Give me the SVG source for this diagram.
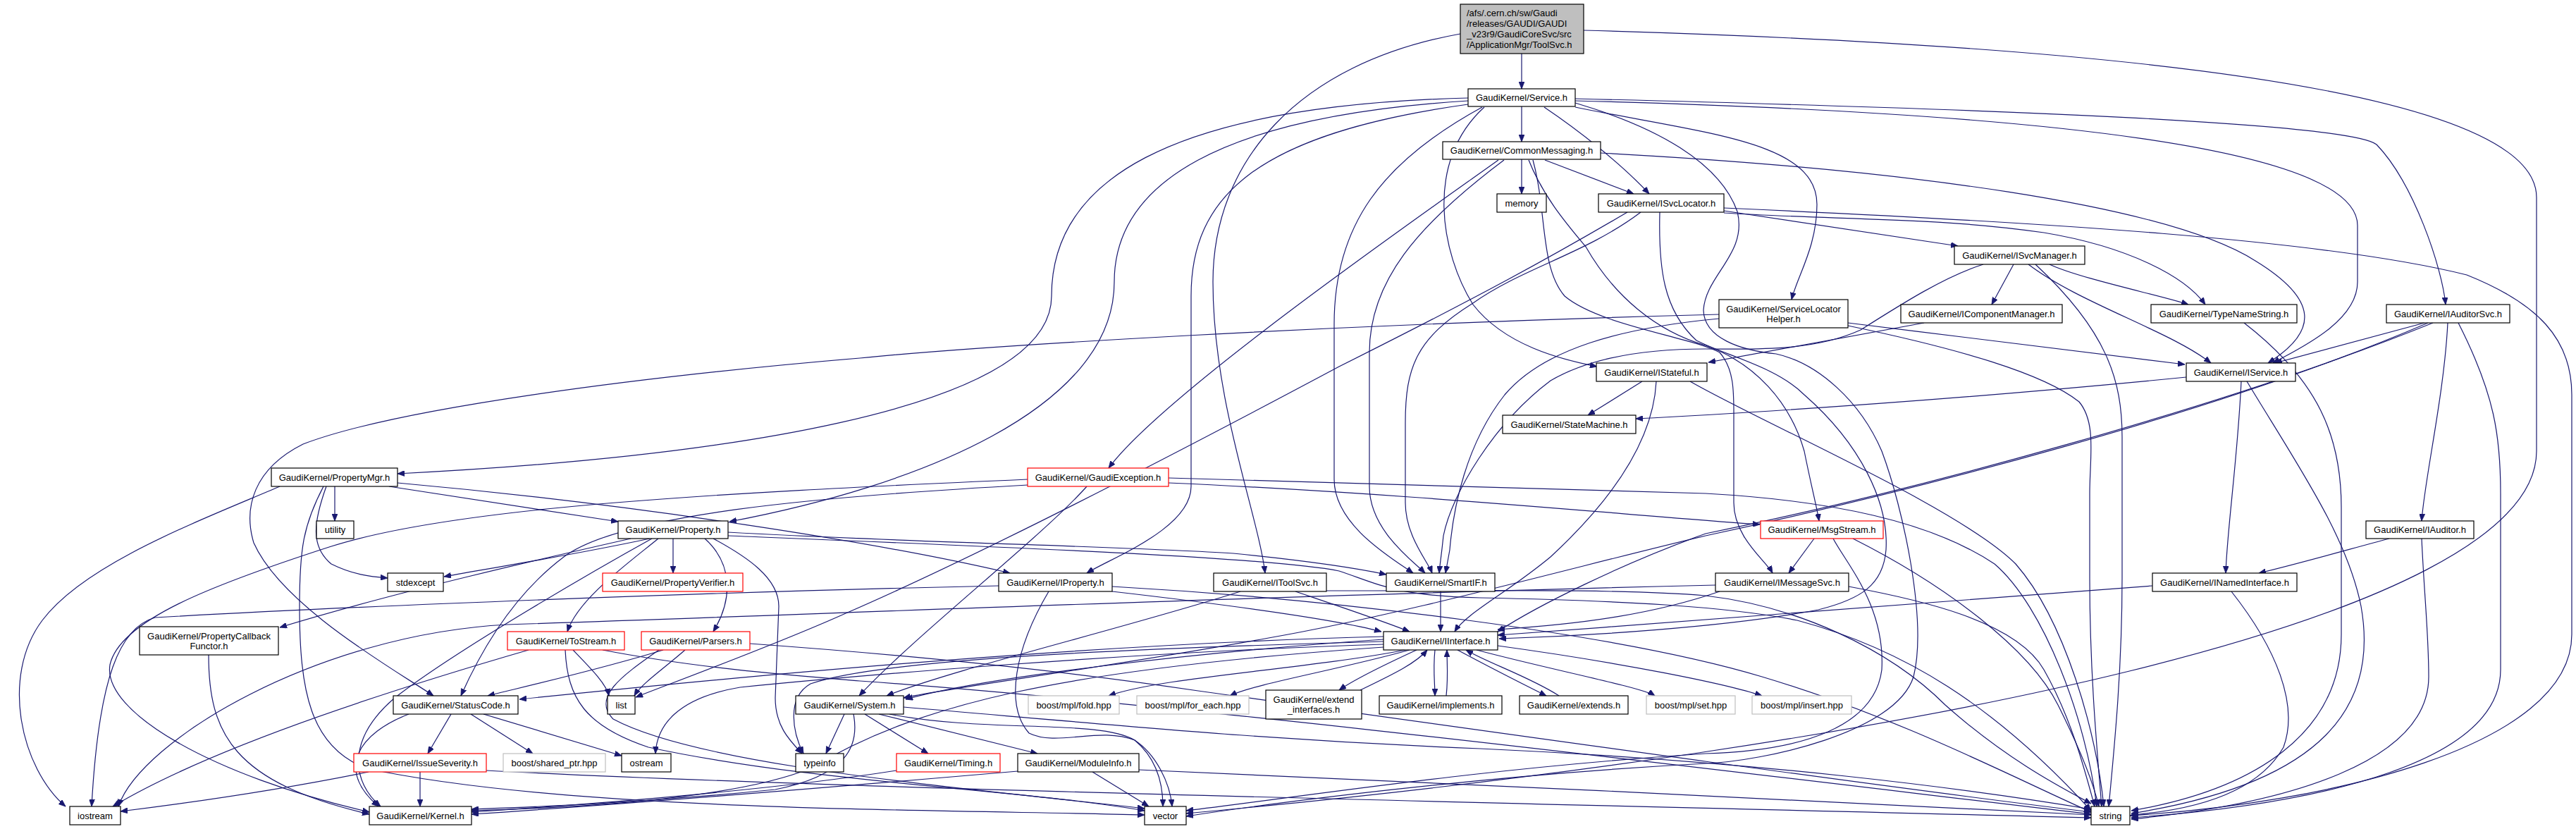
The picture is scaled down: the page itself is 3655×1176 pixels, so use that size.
<svg xmlns="http://www.w3.org/2000/svg" width="3655" height="1176" viewBox="0 0 3655 1176">
<defs>
<style>
.n rect{fill:#fff;stroke:#000;stroke-width:1.2}
.n.r rect{stroke:#ff0000}
.n.g rect{stroke:#bfbfbf}
.n.root rect{fill:#bfbfbf}
text{font-family:"Liberation Sans",Arial,Helvetica,sans-serif;font-size:13px;fill:#000;text-anchor:middle}
.n.root text{text-anchor:start}
#edges path{fill:none;stroke:#191970;stroke-width:1.2;marker-end:url(#a)}
</style>
<marker id="a" markerWidth="11" markerHeight="8" refX="10" refY="4" orient="auto" markerUnits="userSpaceOnUse"><path d="M0,0 L10,4 L0,8 z" fill="#191970" stroke="#191970" stroke-width="0.8"/></marker>
</defs>
<rect width="3655" height="1176" fill="#fff"/>
<g id="edges">
<path d="M2159,76 L2159,126"/>
<path d="M2072,48 C1840,90 1721,230 1721,400 C1721,570 1785,730 1795,813"/>
<path d="M2247,43 C2850,60 3599,110 3599,280 L3599,640 C3599,880 2700,1060 1683,1154"/>
<path d="M2159,151 L2159,201"/>
<path d="M2191,152 C2240,185 2300,232 2340,275"/>
<path d="M2235,152 C2420,190 2578,200 2578,290 C2578,350 2550,392 2542,425"/>
<path d="M2106,152 C2020,230 2045,360 2090,432 C2135,490 2215,510 2266,520"/>
<path d="M2103,152 C1960,230 1893,320 1893,460 L1893,680 C1893,745 1975,792 2005,813"/>
<path d="M2083,148 C1780,190 1690,280 1690,420 L1690,690 C1690,750 1575,792 1542,813"/>
<path d="M2083,143 C1730,165 1581,260 1581,400 C1581,580 1300,690 1035,740"/>
<path d="M2083,139 C1650,150 1492,260 1492,420 C1492,585 1000,650 564,672"/>
<path d="M2235,143 C2900,160 3345,210 3345,320 L3345,400 C3345,460 3250,500 3225,515"/>
<path d="M2235,140 C2850,155 3335,175 3372,205 C3425,260 3465,380 3470,432"/>
<path d="M2235,146 C2350,180 2440,230 2465,300 C2480,360 2420,390 2417,440 C2418,480 2470,497 2520,502 C2580,515 2640,570 2670,640 C2700,720 2735,880 2715,960 C2690,1040 2500,1080 2420,1083 C2100,1100 1800,1140 1683,1158"/>
<path d="M2159,226 L2159,275"/>
<path d="M2192,227 L2318,275"/>
<path d="M2126,227 C2010,310 1650,560 1573,664"/>
<path d="M2134,227 C2010,320 1943,400 1943,500 L1943,690 C1943,752 2005,796 2022,813"/>
<path d="M2169,227 C2190,280 2225,320 2250,350 C2290,420 2350,470 2420,490 C2490,515 2540,570 2560,640 C2570,690 2578,720 2581,739"/>
<path d="M2175,227 C2195,300 2185,380 2220,420 C2270,462 2400,478 2440,500 C2462,525 2460,560 2460,600 L2460,713 C2460,762 2505,795 2515,813"/>
<path d="M2271,217 C2700,240 3074,290 3200,370 C3290,425 3290,470 3218,515"/>
<path d="M2446,299 L2778,349"/>
<path d="M2446,302 C2600,312 2750,308 2900,330 C3020,350 3100,392 3129,432"/>
<path d="M2446,295 C2900,315 3300,340 3500,390 C3600,430 3649,480 3649,560 L3649,900 C3649,1060 3300,1140 3022,1157"/>
<path d="M2309,301 C2200,365 2100,420 1900,520 C1600,680 1350,805 1200,870 C1100,915 950,970 902,989"/>
<path d="M2328,301 C2250,360 2160,380 2090,430 C2010,480 1994,520 1994,600 L1994,713 C1994,760 2025,795 2032,813"/>
<path d="M2355,301 C2353,380 2360,440 2407,483 C2450,505 2520,520 2560,560 C2640,630 2680,713 2676,780 C2672,830 2640,850 2580,865 C2450,890 2250,902 2127,906"/>
<path d="M2857,375 L2826,432"/>
<path d="M2908,375 C2950,395 3070,420 3105,432"/>
<path d="M2878,375 C2950,430 3080,470 3137,515"/>
<path d="M2888,375 C2990,470 3011,540 3011,620 L3011,820 C3011,950 3000,1060 2992,1144"/>
<path d="M2814,375 C2760,392 2700,430 2640,468 C2570,500 2480,495 2420,495 C2340,495 2260,505 2200,540 C2120,600 2060,700 2048,760 C2045,790 2043,800 2042,813"/>
<path d="M2439,452 C2300,465 2190,495 2135,560 C2080,630 2062,720 2057,780 L2051,813"/>
<path d="M2439,446 C1900,460 1400,490 1220,508 C900,535 560,580 430,630 C360,665 345,720 360,770 C400,860 560,950 615,987"/>
<path d="M2622,458 C2800,480 3000,505 3100,517"/>
<path d="M2622,462 C2780,495 2900,530 2950,570 C2975,600 2965,650 2965,700 L2965,820 C2965,950 2975,1060 2982,1144"/>
<path d="M2730,458 L2424,514"/>
<path d="M2330,541 L2253,589"/>
<path d="M2350,541 C2345,640 2265,730 2200,790 C2140,840 2080,870 2064,896"/>
<path d="M2398,541 C2500,600 2780,720 2860,800 C2930,880 2975,1040 2985,1144"/>
<path d="M3102,535 C2800,565 2500,585 2321,594"/>
<path d="M3180,541 C3175,650 3160,750 3158,813"/>
<path d="M3188,541 C3260,660 3330,760 3350,860 C3375,1000 3300,1110 3024,1154"/>
<path d="M3184,458 C3290,540 3322,620 3322,720 L3322,900 C3322,1040 3200,1120 3024,1150"/>
<path d="M3440,458 L3228,515"/>
<path d="M3473,458 C3468,560 3440,680 3436,739"/>
<path d="M3452,458 C3150,580 2700,700 2420,757 C2300,800 2180,860 2125,896"/>
<path d="M3445,458 C3150,585 2700,700 2420,760 C2250,800 2000,870 1800,905 C1550,950 1350,975 1282,990"/>
<path d="M3488,458 C3540,560 3548,620 3548,700 L3548,950 C3548,1080 3300,1140 3024,1160"/>
<path d="M3390,764 C3330,780 3260,800 3205,813"/>
<path d="M3436,764 C3440,850 3446,900 3446,960 C3446,1080 3250,1140 3024,1162"/>
<path d="M3054,831 C2700,860 2420,879 2125,901"/>
<path d="M3166,839 C3230,920 3262,1000 3240,1060 C3200,1130 3100,1150 3024,1156"/>
<path d="M2574,764 L2538,813"/>
<path d="M2629,764 C2760,830 2880,920 2920,1000 C2950,1060 2970,1110 2978,1144"/>
<path d="M2601,764 C2620,800 2675,860 2670,950 C2660,1030 2560,1065 2420,1069 C2100,1090 1850,1130 1683,1150"/>
<path d="M2440,839 C2350,870 2250,885 2125,893"/>
<path d="M2623,832 C2720,850 2860,880 2900,950 C2940,1020 2960,1100 2972,1144"/>
<path d="M2434,830 C1800,845 1200,870 720,886 C450,900 200,1050 168,1144"/>
<path d="M1542,690 C1480,760 1300,900 1219,987"/>
<path d="M1458,688 C1150,705 880,730 800,790 C720,850 675,940 654,987"/>
<path d="M1458,680 C1000,700 640,720 467,776 C300,830 170,880 156,943 C145,1010 300,1100 524,1152"/>
<path d="M1658,685 C2000,700 2300,730 2497,744"/>
<path d="M1658,678 C2000,688 2300,695 2420,700 C2600,710 2740,740 2830,800 C2900,860 2960,1020 2975,1144"/>
<path d="M397,690 C280,740 120,800 60,880 C0,960 30,1090 93,1144"/>
<path d="M459,690 C430,745 425,780 425,860 C425,980 440,1060 520,1090 C800,1150 1300,1148 1624,1156"/>
<path d="M463,690 C445,740 440,775 470,800 C500,815 525,818 550,820"/>
<path d="M475,690 L475,739"/>
<path d="M552,690 L877,740"/>
<path d="M564,685 C900,715 1250,770 1433,813"/>
<path d="M955,764 L955,813"/>
<path d="M895,764 C780,790 560,840 397,890"/>
<path d="M922,764 C800,790 700,805 630,818"/>
<path d="M934,764 C890,800 820,850 805,896"/>
<path d="M1000,764 C1040,800 1040,850 1012,896"/>
<path d="M1012,764 C1060,790 1105,820 1105,860 L1100,990 C1100,1030 1120,1050 1138,1069"/>
<path d="M925,764 C860,800 650,920 560,990 C490,1050 500,1110 540,1144"/>
<path d="M1033,755 C1300,770 1600,775 1750,785 C1850,795 1920,805 1967,815"/>
<path d="M1033,760 C1400,775 1800,790 1900,810 C1960,830 1980,845 2100,848 C2300,852 2450,860 2550,880 C2700,920 2830,1000 2967,1150"/>
<path d="M1578,839 C1760,860 1900,880 1960,896"/>
<path d="M1417,831 C1000,840 500,860 220,876 C170,890 140,960 130,1144"/>
<path d="M1488,839 C1440,920 1425,1000 1460,1040 C1500,1060 1560,1030 1610,1050 C1640,1070 1660,1110 1663,1144"/>
<path d="M1578,832 C1900,850 2300,900 2500,960 C2700,1020 2850,1100 2967,1152"/>
<path d="M1838,839 C1900,860 1960,880 2000,896"/>
<path d="M1760,839 C1600,890 1350,950 1258,987"/>
<path d="M1882,838 C2100,838 2300,835 2420,845 C2550,860 2680,920 2760,1000 C2850,1080 2930,1120 2967,1140"/>
<path d="M2044,839 L2044,896"/>
<path d="M1994,922 C1850,950 1650,960 1573,987"/>
<path d="M2000,922 C1900,950 1780,970 1745,987"/>
<path d="M2010,922 C1960,945 1920,965 1900,979"/>
<path d="M1930,979 C1980,955 2010,940 2025,922"/>
<path d="M2036,922 C2033,950 2036,970 2036,987"/>
<path d="M2052,987 C2055,960 2053,940 2053,922"/>
<path d="M2068,922 C2120,950 2170,975 2194,987"/>
<path d="M2212,987 C2170,960 2110,940 2080,922"/>
<path d="M2095,922 C2200,950 2330,975 2348,987"/>
<path d="M2125,916 C2300,940 2450,970 2500,987"/>
<path d="M1963,907 C1700,925 1400,960 1285,992"/>
<path d="M1963,910 C1600,920 1250,935 1150,970 C1115,990 1125,1040 1140,1069"/>
<path d="M1963,914 C1600,925 1200,960 1050,975 C960,990 932,1030 930,1069"/>
<path d="M1963,903 C1500,915 1000,965 737,992"/>
<path d="M1963,918 C1500,950 1300,1000 1150,1090 C1050,1130 850,1145 669,1150"/>
<path d="M640,1013 L607,1069"/>
<path d="M668,1013 L756,1069"/>
<path d="M686,1013 L882,1072"/>
<path d="M580,1013 C510,1040 475,1090 537,1144"/>
<path d="M523,1095 C400,1120 260,1140 171,1151"/>
<path d="M596,1095 L596,1144"/>
<path d="M690,1093 C1200,1120 2200,1140 2967,1160"/>
<path d="M750,922 C550,980 300,1060 160,1144"/>
<path d="M813,922 C840,950 860,970 864,987"/>
<path d="M855,922 C1000,950 1150,960 1220,966 C1700,1000 2500,1100 2967,1155"/>
<path d="M802,922 C805,990 830,1030 920,1060 C1150,1110 1450,1120 1624,1150"/>
<path d="M941,922 C850,950 740,975 692,987"/>
<path d="M972,922 C940,950 910,970 900,987"/>
<path d="M935,922 C880,960 840,990 870,1020 C1000,1090 1400,1120 1624,1147"/>
<path d="M1064,913 C1300,930 1500,950 1700,980 C2200,1050 2700,1120 2967,1152"/>
<path d="M1198,1013 L1172,1069"/>
<path d="M1211,1013 C1220,1060 1200,1100 1100,1120 C900,1140 750,1145 669,1148"/>
<path d="M1227,1013 L1317,1069"/>
<path d="M1247,1013 L1472,1069"/>
<path d="M1282,1003 C1600,1030 1800,1050 2100,1062 C2500,1080 2800,1120 2967,1148"/>
<path d="M1262,1013 C1400,1040 1560,1020 1610,1050 C1640,1075 1650,1110 1650,1144"/>
<path d="M1272,1093 C1100,1120 850,1140 669,1152"/>
<path d="M1444,1094 C1200,1115 900,1140 669,1155"/>
<path d="M1550,1095 L1630,1144"/>
<path d="M1616,1092 C2000,1110 2600,1135 2967,1156"/>
<path d="M296,929 C296,1040 330,1110 524,1155"/>
</g>
<g id="n_root" class="n root"><rect x="2072" y="6" width="175" height="70"/><text x="2081" y="23">/afs/.cern.ch/sw/Gaudi</text><text x="2081" y="38">/releases/GAUDI/GAUDI</text><text x="2081" y="53">_v23r9/GaudiCoreSvc/src</text><text x="2081" y="68">/ApplicationMgr/ToolSvc.h</text></g>
<g id="n_Service" class="n"><rect x="2083" y="126" width="152" height="25"/><text x="2159" y="143">GaudiKernel/Service.h</text></g>
<g id="n_CommonMessaging" class="n"><rect x="2047" y="201" width="224" height="25"/><text x="2159" y="218">GaudiKernel/CommonMessaging.h</text></g>
<g id="n_memory" class="n"><rect x="2124" y="275" width="70" height="26"/><text x="2159" y="292.5">memory</text></g>
<g id="n_ISvcLocator" class="n"><rect x="2268" y="275" width="178" height="26"/><text x="2357" y="292.5">GaudiKernel/ISvcLocator.h</text></g>
<g id="n_ISvcManager" class="n"><rect x="2773" y="349" width="185" height="26"/><text x="2865.5" y="366.5">GaudiKernel/ISvcManager.h</text></g>
<g id="n_ServiceLocatorHelper" class="n"><rect x="2439" y="425" width="183" height="40"/><text x="2530.5" y="442.5">GaudiKernel/ServiceLocator</text><text x="2530.5" y="456.5">Helper.h</text></g>
<g id="n_IComponentManager" class="n"><rect x="2697" y="432" width="229" height="26"/><text x="2811.5" y="449.5">GaudiKernel/IComponentManager.h</text></g>
<g id="n_TypeNameString" class="n"><rect x="3052" y="432" width="207" height="26"/><text x="3155.5" y="449.5">GaudiKernel/TypeNameString.h</text></g>
<g id="n_IAuditorSvc" class="n"><rect x="3386" y="432" width="175" height="26"/><text x="3473.5" y="449.5">GaudiKernel/IAuditorSvc.h</text></g>
<g id="n_IStateful" class="n"><rect x="2265" y="515" width="157" height="26"/><text x="2343.5" y="532.5">GaudiKernel/IStateful.h</text></g>
<g id="n_IService" class="n"><rect x="3102" y="515" width="155" height="26"/><text x="3179.5" y="532.5">GaudiKernel/IService.h</text></g>
<g id="n_StateMachine" class="n"><rect x="2132" y="589" width="189" height="26"/><text x="2226.5" y="606.5">GaudiKernel/StateMachine.h</text></g>
<g id="n_PropertyMgr" class="n"><rect x="385" y="664" width="179" height="26"/><text x="474.5" y="681.5">GaudiKernel/PropertyMgr.h</text></g>
<g id="n_GaudiException" class="n r"><rect x="1458" y="664" width="200" height="26"/><text x="1558" y="681.5">GaudiKernel/GaudiException.h</text></g>
<g id="n_utility" class="n"><rect x="449" y="739" width="53" height="25"/><text x="475.5" y="756">utility</text></g>
<g id="n_Property" class="n"><rect x="877" y="739" width="156" height="25"/><text x="955" y="756">GaudiKernel/Property.h</text></g>
<g id="n_MsgStream" class="n r"><rect x="2498" y="739" width="174" height="25"/><text x="2585" y="756">GaudiKernel/MsgStream.h</text></g>
<g id="n_IAuditor" class="n"><rect x="3357" y="739" width="153" height="25"/><text x="3433.5" y="756">GaudiKernel/IAuditor.h</text></g>
<g id="n_stdexcept" class="n"><rect x="550" y="813" width="79" height="26"/><text x="589.5" y="830.5">stdexcept</text></g>
<g id="n_PropertyVerifier" class="n r"><rect x="855" y="813" width="199" height="26"/><text x="954.5" y="830.5">GaudiKernel/PropertyVerifier.h</text></g>
<g id="n_IProperty" class="n"><rect x="1417" y="813" width="161" height="26"/><text x="1497.5" y="830.5">GaudiKernel/IProperty.h</text></g>
<g id="n_IToolSvc" class="n"><rect x="1722" y="813" width="160" height="26"/><text x="1802" y="830.5">GaudiKernel/IToolSvc.h</text></g>
<g id="n_SmartIF" class="n"><rect x="1967" y="813" width="154" height="26"/><text x="2044" y="830.5">GaudiKernel/SmartIF.h</text></g>
<g id="n_IMessageSvc" class="n"><rect x="2434" y="813" width="189" height="26"/><text x="2528.5" y="830.5">GaudiKernel/IMessageSvc.h</text></g>
<g id="n_INamedInterface" class="n"><rect x="3054" y="813" width="205" height="26"/><text x="3156.5" y="830.5">GaudiKernel/INamedInterface.h</text></g>
<g id="n_PropertyCallbackFunctor" class="n"><rect x="198" y="889" width="197" height="40"/><text x="296.5" y="906.5">GaudiKernel/PropertyCallback</text><text x="296.5" y="920.5">Functor.h</text></g>
<g id="n_ToStream" class="n r"><rect x="720" y="896" width="166" height="26"/><text x="803" y="913.5">GaudiKernel/ToStream.h</text></g>
<g id="n_Parsers" class="n r"><rect x="910" y="896" width="154" height="26"/><text x="987" y="913.5">GaudiKernel/Parsers.h</text></g>
<g id="n_IInterface" class="n"><rect x="1963" y="896" width="162" height="26"/><text x="2044" y="913.5">GaudiKernel/IInterface.h</text></g>
<g id="n_StatusCode" class="n"><rect x="558" y="987" width="177" height="26"/><text x="646.5" y="1004.5">GaudiKernel/StatusCode.h</text></g>
<g id="n_list" class="n"><rect x="862" y="987" width="39" height="26"/><text x="881.5" y="1004.5">list</text></g>
<g id="n_System" class="n"><rect x="1129" y="987" width="153" height="26"/><text x="1205.5" y="1004.5">GaudiKernel/System.h</text></g>
<g id="n_fold" class="n g"><rect x="1459" y="987" width="129" height="26"/><text x="1523.5" y="1004.5">boost/mpl/fold.hpp</text></g>
<g id="n_for_each" class="n g"><rect x="1613" y="987" width="159" height="26"/><text x="1692.5" y="1004.5">boost/mpl/for_each.hpp</text></g>
<g id="n_extend_interfaces" class="n"><rect x="1796" y="979" width="136" height="41"/><text x="1864" y="996.5">GaudiKernel/extend</text><text x="1864" y="1010.5">_interfaces.h</text></g>
<g id="n_implements" class="n"><rect x="1957" y="987" width="174" height="26"/><text x="2044" y="1004.5">GaudiKernel/implements.h</text></g>
<g id="n_extends" class="n"><rect x="2156" y="987" width="154" height="26"/><text x="2233" y="1004.5">GaudiKernel/extends.h</text></g>
<g id="n_set" class="n g"><rect x="2336" y="987" width="126" height="26"/><text x="2399" y="1004.5">boost/mpl/set.hpp</text></g>
<g id="n_insert" class="n g"><rect x="2486" y="987" width="141" height="26"/><text x="2556.5" y="1004.5">boost/mpl/insert.hpp</text></g>
<g id="n_IssueSeverity" class="n r"><rect x="502" y="1069" width="188" height="26"/><text x="596" y="1086.5">GaudiKernel/IssueSeverity.h</text></g>
<g id="n_shared_ptr" class="n g"><rect x="714" y="1069" width="145" height="26"/><text x="786.5" y="1086.5">boost/shared_ptr.hpp</text></g>
<g id="n_ostream" class="n"><rect x="882" y="1069" width="70" height="26"/><text x="917" y="1086.5">ostream</text></g>
<g id="n_typeinfo" class="n"><rect x="1129" y="1069" width="68" height="26"/><text x="1163" y="1086.5">typeinfo</text></g>
<g id="n_Timing" class="n r"><rect x="1272" y="1069" width="147" height="26"/><text x="1345.5" y="1086.5">GaudiKernel/Timing.h</text></g>
<g id="n_ModuleInfo" class="n"><rect x="1444" y="1069" width="172" height="26"/><text x="1530" y="1086.5">GaudiKernel/ModuleInfo.h</text></g>
<g id="n_iostream" class="n"><rect x="99" y="1144" width="72" height="26"/><text x="135" y="1161.5">iostream</text></g>
<g id="n_Kernel" class="n"><rect x="524" y="1144" width="145" height="26"/><text x="596.5" y="1161.5">GaudiKernel/Kernel.h</text></g>
<g id="n_vector" class="n"><rect x="1624" y="1144" width="59" height="26"/><text x="1653.5" y="1161.5">vector</text></g>
<g id="n_string" class="n"><rect x="2967" y="1144" width="55" height="26"/><text x="2994.5" y="1161.5">string</text></g>
</svg>
